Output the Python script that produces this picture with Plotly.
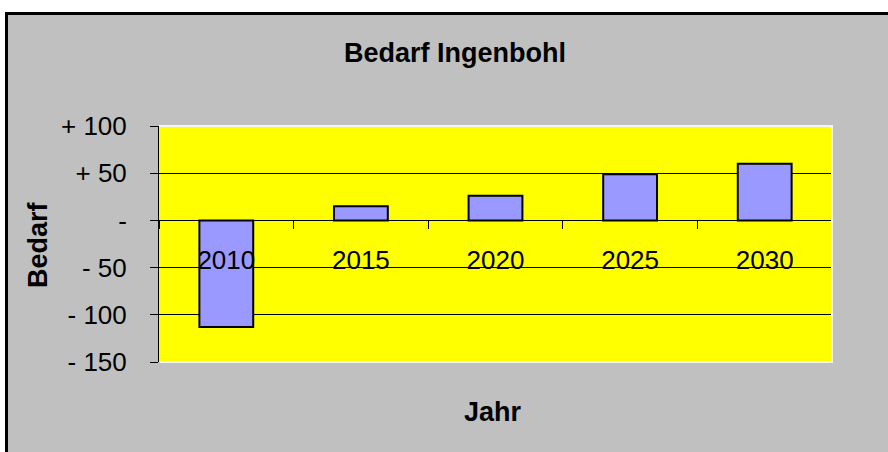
import plotly.graph_objects as go

years = ["2010", "2015", "2020", "2025", "2030"]
bedarf = [-113, 15, 26, 49, 60]
y_tickvals = [100, 50, 0, -50, -100, -150]
y_ticktext = ["+ 100", "+ 50", "-", "- 50", "- 100", "- 150"]

W, H = 888, 452
L, R, T, B = 159, 56, 126, 90
PW, PH = W - L - R, H - T - B

def px(x):
    return (x - L) / PW

def py(y):
    return (H - B - y) / PH

FONT = "Liberation Sans, Arial, sans-serif"

fig = go.Figure()
fig.add_trace(go.Bar(
    x=years, y=bedarf,
    marker=dict(color="#9999FF", line=dict(color="#000000", width=2)),
    hoverinfo="x+y",
))

fig.update_layout(
    width=W, height=H,
    margin=dict(l=L, r=R, t=T, b=B, pad=0),
    paper_bgcolor="#C0C0C0",
    plot_bgcolor="#FFFF00",
    bargap=0.6,
    showlegend=False,
    font=dict(family=FONT, color="#000000", size=26),
    title=dict(text="Bedarf Ingenbohl", x=455 / W, xref="container", xanchor="center",
               y=1 - 53 / H, yref="container", yanchor="middle",
               font=dict(family=FONT, size=27, weight="bold", color="#000000")),
    xaxis=dict(
        type="category",
        anchor="free", position=0.6,
        showline=True, linecolor="#000000", linewidth=1,
        ticks="outside", tickson="boundaries", ticklen=8, tickcolor="#000000", tickwidth=1,
        tickfont=dict(family=FONT, size=26, color="#000000"),
        ticklabelstandoff=16,
        showgrid=False, zeroline=False,
    ),
    yaxis=dict(
        range=[-150, 100],
        tickvals=y_tickvals, ticktext=y_ticktext,
        ticks="outside", ticklen=8, tickcolor="#000000", tickwidth=1,
        tickfont=dict(family=FONT, size=26, color="#000000"),
        ticklabelstandoff=18,
        showline=True, linecolor="#000000", linewidth=1,
        showgrid=True, gridcolor="#000000", gridwidth=1,
        zeroline=False,
    ),
    annotations=[
        dict(text="Bedarf", xref="paper", yref="paper", x=px(38), y=py(245),
             showarrow=False, textangle=-90, xanchor="center", yanchor="middle",
             font=dict(family=FONT, size=27, weight="bold", color="#000000")),
        dict(text="Jahr", xref="paper", yref="paper", x=px(493), y=py(412),
             showarrow=False, xanchor="center", yanchor="middle",
             font=dict(family=FONT, size=27, weight="bold", color="#000000")),
    ],
    shapes=[
        # white outside area (top & left)
        dict(type="rect", xref="paper", yref="paper", x0=px(-20), x1=px(W + 20), y0=py(-20), y1=py(12),
             fillcolor="#FFFFFF", line=dict(width=0), layer="above"),
        dict(type="rect", xref="paper", yref="paper", x0=px(-20), x1=px(5), y0=py(-20), y1=py(H + 20),
             fillcolor="#FFFFFF", line=dict(width=0), layer="above"),
        # chart border (black)
        dict(type="line", xref="paper", yref="paper", x0=px(5), x1=px(W + 20), y0=py(13.5), y1=py(13.5),
             line=dict(color="#000000", width=3), layer="above"),
        dict(type="line", xref="paper", yref="paper", x0=px(6.5), x1=px(6.5), y0=py(12), y1=py(H + 20),
             line=dict(color="#000000", width=3), layer="above"),
        # plot-area light border (top, right, bottom)
        dict(type="line", xref="paper", yref="paper", x0=0, x1=px(833), y0=1, y1=1,
             line=dict(color="#F4F4F4", width=2), layer="above"),
        dict(type="line", xref="paper", yref="paper", x0=px(832), x1=px(832), y0=0, y1=1,
             line=dict(color="#F4F4F4", width=2), layer="above"),
        dict(type="line", xref="paper", yref="paper", x0=px(160), x1=px(833), y0=0, y1=0,
             line=dict(color="#F4F4F4", width=2), layer="above"),
    ],
)

fig.write_html(
    "out.html",
    config={"displayModeBar": False},
    post_script="document.body.style.margin='0';document.body.style.overflow='hidden';",
)
